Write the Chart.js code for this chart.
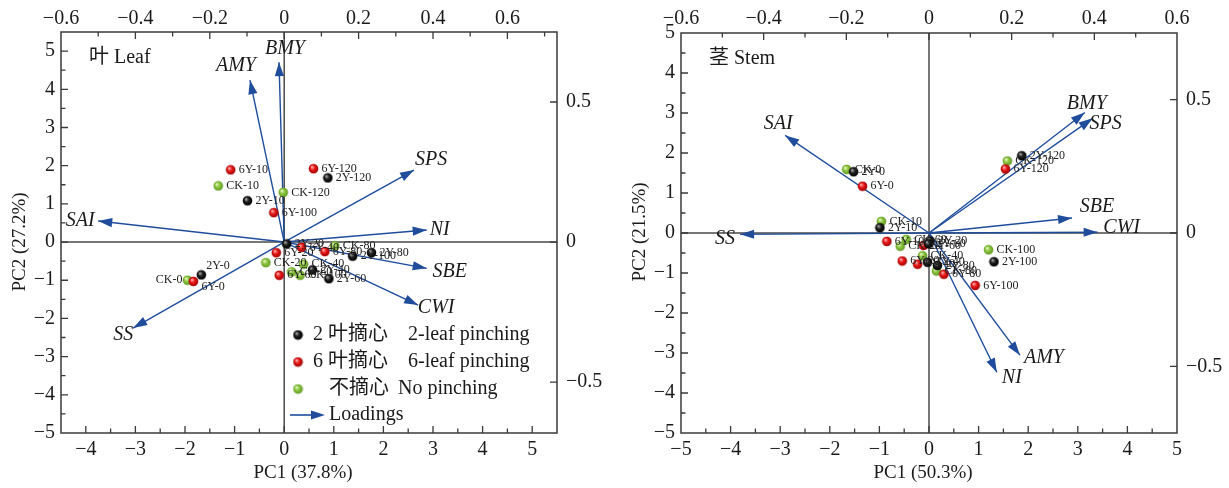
<!DOCTYPE html>
<html><head><meta charset="utf-8">
<script src="https://cdn.jsdelivr.net/npm/chart.js@4.4.1/dist/chart.umd.min.js"></script>
<style>
html,body{margin:0;padding:0;background:#fff;width:1229px;height:488px;overflow:hidden}
canvas{position:absolute;top:0}
#c1{left:0}
#c2{left:615px}
</style></head><body>
<canvas id="c1" width="615" height="488"></canvas>
<canvas id="c2" width="614" height="488"></canvas>
<script>
// ---------------- DATA ----------------
const times = ['0','10','20','40','60','80','100','120'];
const groups = ['2Y','6Y','CK'];
const legendCN = ['2 叶摘心','6 叶摘心','不摘心'];
const legendEN = ['2-leaf pinching','6-leaf pinching','No pinching'];

// Leaf: PC scores (order of times)
const leafPC1_2Y = [-1.67,-0.74, 0.05, 0.57, 0.90, 1.76, 1.38, 0.88];
const leafPC2_2Y = [-0.86, 1.08,-0.05,-0.73,-0.96,-0.28,-0.37, 1.68];
const leafPC1_6Y = [-1.83,-1.08,-0.16, 0.35,-0.10, 0.82,-0.21, 0.59];
const leafPC2_6Y = [-1.03, 1.89,-0.28,-0.14,-0.87,-0.25, 0.77, 1.92];
const leafPC1_CK = [-1.95,-1.33,-0.37, 0.39, 0.15, 1.02, 0.32,-0.02];
const leafPC2_CK = [-1.00, 1.47,-0.54,-0.58,-0.78,-0.10,-0.87, 1.30];
// Leaf loadings
const leafVars  = ['BMY','AMY','SPS','NI','SBE','CWI','SAI','SS'];
const leafLoad1 = [-0.014,-0.092, 0.349, 0.383, 0.383, 0.360,-0.500,-0.406];
const leafLoad2 = [ 0.642, 0.578, 0.257, 0.043,-0.094,-0.225, 0.075,-0.307];

// Stem: PC scores
const stemPC1_2Y = [-1.52,-0.99, 0.02,-0.03,-0.01, 0.17, 1.31, 1.87];
const stemPC2_2Y = [ 1.53, 0.13,-0.20,-0.73,-0.27,-0.81,-0.72, 1.93];
const stemPC1_6Y = [-1.34,-0.85,-0.54,-0.23,-0.11, 0.30, 0.93, 1.54];
const stemPC2_6Y = [ 1.17,-0.21,-0.70,-0.78,-0.31,-1.03,-1.31, 1.60];
const stemPC1_CK = [-1.66,-0.96,-0.58,-0.13,-0.46, 0.15, 1.20, 1.58];
const stemPC2_CK = [ 1.59, 0.29,-0.33,-0.57,-0.16,-0.95,-0.42, 1.80];
// Stem loadings
const stemVars  = ['SAI','BMY','SPS','SBE','CWI','SS','AMY','NI'];
const stemLoad1 = [-0.348, 0.377, 0.396, 0.346, 0.408,-0.457, 0.220, 0.164];
const stemLoad2 = [ 0.366, 0.452, 0.430, 0.056, 0.003,-0.005,-0.458,-0.522];

// Tick labels
const leafXTicks  = [-4,-3,-2,-1,0,1,2,3,4,5];
const leafYTicks  = [-5,-4,-3,-2,-1,0,1,2,3,4,5];
const leafX2Ticks = [-0.6,-0.4,-0.2,0,0.2,0.4,0.6];
const leafY2Ticks = [-0.5,0,0.5];
const stemXTicks  = [-5,-4,-3,-2,-1,0,1,2,3,4,5];
const stemYTicks  = [-5,-4,-3,-2,-1,0,1,2,3,4,5];
const stemX2Ticks = [-0.6,-0.4,-0.2,0,0.2,0.4,0.6];
const stemY2Ticks = [-0.5,0,0.5];

// ---------------- STYLE / LAYOUT ----------------
const SERIF = '"Liberation Serif","Times New Roman","Noto Sans CJK SC",serif';
const ARROW = '#1f4d9c';
const AXIS = '#3a3a3a';

function sphere(light, base, dark){
  const r = 4.8, s = 11;
  const c = document.createElement('canvas'); c.width = s; c.height = s;
  const g = c.getContext('2d');
  const gr = g.createRadialGradient(s/2-1.6, s/2-1.8, 0.4, s/2, s/2, r);
  gr.addColorStop(0, light); gr.addColorStop(0.45, base); gr.addColorStop(1, dark);
  g.fillStyle = gr; g.beginPath(); g.arc(s/2, s/2, r, 0, Math.PI*2); g.fill();
  return c;
}
const sphereImgs = [
  sphere('#a8a8a8','#1c1c1c','#000000'),
  sphere('#ffb0b0','#e81818','#a00000'),
  sphere('#e6f7c0','#8cc63f','#5f9a22')
];

function fmtTick(v){
  const r = Math.round(v*100)/100;
  if (r === 0) return '0';
  return (r < 0 ? '\u2212' : '') + Math.abs(r);
}

function halves(arr, step){
  const out = [];
  for (let i = 0; i < arr.length-1; i++) out.push(+(arr[i] + step).toFixed(3));
  return out;
}

function axis(pos, min, max, ticksArr, size, pad){
  return {
    type:'linear', position:pos, min:min, max:max,
    afterBuildTicks: s => { s.ticks = ticksArr.map(v => ({value:v})); },
    afterFit: s => { if (pos==='top'||pos==='bottom') s.height = size; else s.width = size; },
    ticks:{ callback: fmtTick, font:{family:SERIF, size:20}, color:'#1a1a1a', padding:pad,
            autoSkip:false, maxRotation:0, minRotation:0 },
    grid:{ display:false, drawTicks:false }, border:{ display:false }
  };
}

function makePlugin(cfg){
  return {
    id:'biplot_'+cfg.id,
    beforeDatasetsDraw(chart){
      const {ctx, chartArea:a, scales} = chart;
      const x0 = scales.x.getPixelForValue(0), y0 = scales.y.getPixelForValue(0);
      ctx.save(); ctx.strokeStyle = '#4a4a4a'; ctx.lineWidth = 1.5;
      ctx.beginPath(); ctx.moveTo(x0, a.top); ctx.lineTo(x0, a.bottom);
      ctx.moveTo(a.left, y0); ctx.lineTo(a.right, y0); ctx.stroke(); ctx.restore();
    },
    afterDatasetDraw(chart, args){
      const ds = chart.data.datasets[args.index];
      if (!ds.isLoading) return;
      const pts = args.meta.data;
      drawHead(chart.ctx, pts[0].x, pts[0].y, pts[1].x, pts[1].y);
    },
    afterDatasetsDraw(chart){
      const ctx = chart.ctx;
      ctx.save();
      // point labels
      ctx.font = '12px ' + SERIF; ctx.fillStyle = '#222'; ctx.textBaseline = 'middle';
      chart.data.datasets.forEach((ds, di) => {
        if (!ds.isPoints) return;
        chart.getDatasetMeta(di).data.forEach((el, i) => {
          const name = ds.names[i];
          const p = cfg.labelPlace[name] || [8, 0, 'left'];
          ctx.textAlign = p[2];
          ctx.fillText(name, el.x + p[0], el.y + p[1]);
        });
      });
      // loading labels
      ctx.font = 'italic 20px ' + SERIF; ctx.fillStyle = '#1a1a1a'; ctx.textAlign = 'center';
      chart.data.datasets.forEach((ds, di) => {
        if (!ds.isLoading) return;
        const el = chart.getDatasetMeta(di).data[1];
        const o = cfg.varOffset[ds.label] || [12, 0];
        ctx.fillText(ds.label, el.x + o[0], el.y + o[1]);
      });
      ctx.restore();
    },
    afterDraw(chart){
      const {ctx, chartArea:a, scales} = chart;
      ctx.save();
      ctx.strokeStyle = AXIS; ctx.lineWidth = 1.5;
      ctx.strokeRect(a.left, a.top, a.right-a.left, a.bottom-a.top);
      ctx.lineWidth = 1.3;
      const tick = (sc, vals, len) => {
        ctx.beginPath();
        vals.forEach(v => {
          if (v <= sc.min || v >= sc.max) return;
          const p = sc.getPixelForValue(v);
          if (sc.position==='bottom'){ ctx.moveTo(p, a.bottom); ctx.lineTo(p, a.bottom-len); }
          else if (sc.position==='top'){ ctx.moveTo(p, a.top); ctx.lineTo(p, a.top+len); }
          else if (sc.position==='left'){ ctx.moveTo(a.left, p); ctx.lineTo(a.left+len, p); }
          else { ctx.moveTo(a.right, p); ctx.lineTo(a.right-len, p); }
        });
        ctx.stroke();
      };
      ['x','y','x2','y2'].forEach(id => {
        const sc = scales[id], t = cfg.ticks[id];
        tick(sc, t.major, 7);
        if (t.minor) tick(sc, t.minor, 4.5);
      });
      // axis titles
      ctx.fillStyle = '#1a1a1a'; ctx.font = '19px ' + SERIF;
      ctx.textAlign = 'center'; ctx.textBaseline = 'middle';
      ctx.fillText(cfg.xTitle, cfg.xTitlePos[0], cfg.xTitlePos[1]);
      ctx.save(); ctx.translate(cfg.yTitlePos[0], cfg.yTitlePos[1]); ctx.rotate(-Math.PI/2);
      ctx.fillText(cfg.yTitle, 0, 0); ctx.restore();
      // panel label
      ctx.font = '20px ' + SERIF; ctx.textAlign = 'left';
      ctx.fillText(cfg.panel, a.left + 28, a.top + 26);
      // legend
      if (cfg.legend){
        const lx = 298, ly = [335, 362, 389], enX = [408, 408, 398];
        sphereImgs.forEach((img, i) => {
          ctx.drawImage(img, lx - img.width/2, ly[i] - img.height/2);
          ctx.textAlign = 'left';
          ctx.fillText(legendCN[i], i < 2 ? 313 : 329, ly[i]);
          ctx.fillText(legendEN[i], enX[i], ly[i]);
        });
        ctx.strokeStyle = ARROW; ctx.lineWidth = 1.6;
        ctx.beginPath(); ctx.moveTo(290, 415); ctx.lineTo(314, 415); ctx.stroke();
        drawHead(ctx, 290, 415, 325, 415);
        ctx.textAlign = 'left'; ctx.fillText('Loadings', 329, 415);
      }
      ctx.restore();
    }
  };
}

function drawHead(ctx, ox, oy, tx, ty){
  const ang = Math.atan2(ty-oy, tx-ox), L = 14, W = 4.6;
  const bx = tx - L*Math.cos(ang), by = ty - L*Math.sin(ang);
  ctx.save(); ctx.fillStyle = ARROW;
  ctx.beginPath(); ctx.moveTo(tx, ty);
  ctx.lineTo(bx - W*Math.sin(ang), by + W*Math.cos(ang));
  ctx.lineTo(bx + W*Math.sin(ang), by - W*Math.cos(ang));
  ctx.closePath(); ctx.fill(); ctx.restore();
}

function makeChart(canvas, cfg){
  const datasets = [];
  groups.forEach((g, gi) => {
    datasets.push({
      label: legendEN[gi], isPoints:true,
      names: times.map(t => g + '-' + t),
      data: cfg.pc1[gi].map((x, i) => ({x:x, y:cfg.pc2[gi][i]})),
      pointStyle: sphereImgs[gi], pointRadius:5, pointHoverRadius:5,
      showLine:false, xAxisID:'x', yAxisID:'y', order:0
    });
  });
  cfg.vars.forEach((v, i) => {
    datasets.push({
      label: v, isLoading:true,
      data: [{x:0, y:0}, {x:cfg.l1[i], y:cfg.l2[i]}],
      showLine:true, borderColor:ARROW, borderWidth:1.4, pointRadius:0, pointHoverRadius:0,
      fill:false, xAxisID:'x2', yAxisID:'y2', order:1
    });
  });
  return new Chart(canvas, {
    type:'scatter',
    data:{ datasets },
    options:{
      responsive:false, animation:false, devicePixelRatio:1,
      layout:{ padding:0 },
      events:[],
      plugins:{ legend:{display:false}, tooltip:{enabled:false} },
      scales: cfg.scales
    },
    plugins:[ makePlugin(cfg) ]
  });
}

// ---------------- LEAF ----------------
makeChart(document.getElementById('c1'), {
  id:'leaf', panel:'叶 Leaf', legend:true,
  xTitle:'PC1 (37.8%)', yTitle:'PC2 (27.2%)', xTitlePos:[303, 473], yTitlePos:[20, 242],
  pc1:[leafPC1_2Y, leafPC1_6Y, leafPC1_CK], pc2:[leafPC2_2Y, leafPC2_6Y, leafPC2_CK],
  vars:leafVars, l1:leafLoad1, l2:leafLoad2,
  scales:{
    x:  axis('bottom', -4.5, 5.5, leafXTicks, 55, 5),
    y:  axis('left', -5, 5.5, leafYTicks, 61, 6),
    x2: axis('top', -0.6, 5.5/7.5, leafX2Ticks, 32, 1),
    y2: axis('right', -5/7.333, 0.75, leafY2Ticks, 58, 9)
  },
  ticks:{
    x:{major:leafXTicks, minor:halves(leafXTicks, 0.5)},
    y:{major:leafYTicks, minor:halves(leafYTicks, 0.5).concat([5.5])},
    x2:{major:leafX2Ticks, minor:halves(leafX2Ticks, 0.1).concat([0.7])},
    y2:{major:leafY2Ticks}
  },
  labelPlace:{ 'CK-0':[-5, 0, 'right'], '6Y-0':[8, 5, 'left'], '2Y-0':[5, -9, 'left'] },
  varOffset:{ BMY:[6,-13], AMY:[-14,-14], SPS:[17,-10], NI:[13,0], SBE:[23,3], CWI:[18,3], SAI:[-18,0], SS:[-10,7] }
});

// ---------------- STEM ----------------
makeChart(document.getElementById('c2'), {
  id:'stem', panel:'茎 Stem', legend:false,
  xTitle:'PC1 (50.3%)', yTitle:'PC2 (21.5%)', xTitlePos:[308, 473], yTitlePos:[25, 232],
  pc1:[stemPC1_2Y, stemPC1_6Y, stemPC1_CK], pc2:[stemPC2_2Y, stemPC2_6Y, stemPC2_CK],
  vars:stemVars, l1:stemLoad1, l2:stemLoad2,
  scales:{
    x:  axis('bottom', -5, 5, stemXTicks, 55, 5),
    y:  axis('left', -5, 5, stemYTicks, 66, 6),
    x2: axis('top', -0.6, 0.6, stemX2Ticks, 33, 2),
    y2: axis('right', -0.75, 0.75, stemY2Ticks, 52, 9)
  },
  ticks:{
    x:{major:stemXTicks, minor:halves(stemXTicks, 0.5)},
    y:{major:stemYTicks, minor:halves(stemYTicks, 0.5)},
    x2:{major:stemX2Ticks, minor:halves(stemX2Ticks, 0.1)},
    y2:{major:stemY2Ticks}
  },
  labelPlace:{},
  varOffset:{ SAI:[-7,-12], BMY:[2,-9], SPS:[13,5], SBE:[25,-11], CWI:[24,-4], SS:[-15,4], AMY:[24,3], NI:[15,6] }
});
</script>
</body></html>
